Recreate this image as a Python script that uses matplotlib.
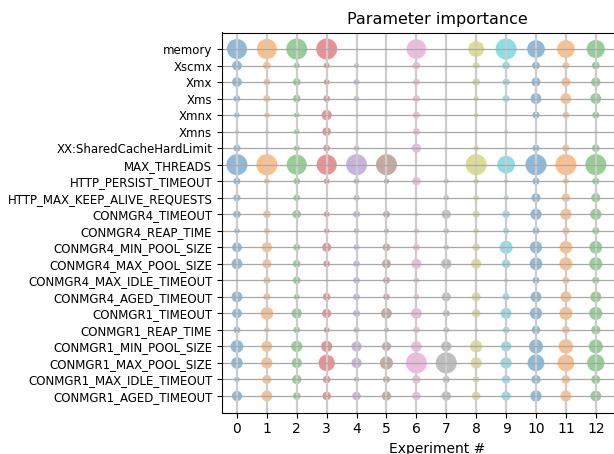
#!/usr/bin/env python3

import matplotlib
matplotlib.use('Agg')
import matplotlib.pyplot as plt
import numpy as np

# parameter names, top to bottom
params = [
    'memory', 'Xscmx', 'Xmx', 'Xms', 'Xmnx', 'Xmns', 'XX:SharedCacheHardLimit',
    'MAX_THREADS', 'HTTP_PERSIST_TIMEOUT', 'HTTP_MAX_KEEP_ALIVE_REQUESTS',
    'CONMGR4_TIMEOUT', 'CONMGR4_REAP_TIME', 'CONMGR4_MIN_POOL_SIZE',
    'CONMGR4_MAX_POOL_SIZE', 'CONMGR4_MAX_IDLE_TIMEOUT', 'CONMGR4_AGED_TIMEOUT',
    'CONMGR1_TIMEOUT', 'CONMGR1_REAP_TIME', 'CONMGR1_MIN_POOL_SIZE',
    'CONMGR1_MAX_POOL_SIZE', 'CONMGR1_MAX_IDLE_TIMEOUT', 'CONMGR1_AGED_TIMEOUT',
]

experiments = list(range(13))

# relative importance (0-100, largest per experiment = 100), one row per parameter
importance = [
    [91, 91, 100, 100, 0, 0, 86, 0, 54, 100, 69, 69, 73],
    [18, 10, 5, 5, 3, 0, 10, 0, 8, 10, 10, 8, 10],
    [18, 7, 10, 5, 5, 0, 7, 0, 10, 8, 15, 15, 16],
    [7, 8, 10, 7, 4, 0, 8, 0, 4, 8, 23, 23, 23],
    [4, 4, 4, 20, 0, 0, 8, 0, 3, 0, 8, 7, 8],
    [1, 1, 4, 13, 0, 0, 8, 0, 0, 1.5, 0, 0, 0],
    [8, 0.3, 5, 7, 4, 0, 16, 0, 4, 0, 8, 8, 10],
    [100, 100, 91, 91, 100, 100, 0, 0, 100, 69, 100, 100, 100],
    [8, 5, 7, 5, 5, 4, 13, 3, 4, 1.5, 8, 5, 8],
    [8, 0, 7, 0, 5, 0, 0, 4, 5, 3, 15, 13, 15],
    [10, 10, 13, 5, 8, 8, 1.5, 15, 8, 10, 25, 25, 25],
    [4, 5, 0, 4, 4, 3, 4, 4, 4, 5, 8, 8, 8],
    [18, 20, 8, 15, 5, 10, 8, 4, 10, 35, 30, 33, 33],
    [23, 15, 10, 7, 7, 15, 20, 20, 20, 13, 33, 35, 35],
    [0, 8, 10, 0, 7, 8, 5, 0, 0, 1.5, 8, 8, 8],
    [23, 8, 5, 10, 7, 7, 5, 15, 15, 8, 23, 23, 23],
    [18, 33, 20, 15, 8, 23, 23, 8, 13, 23, 30, 35, 35],
    [7, 4, 7, 5, 5, 3, 7, 5, 1.5, 7, 13, 10, 15],
    [33, 23, 25, 25, 20, 15, 23, 20, 30, 20, 41, 44, 41],
    [27, 25, 20, 58, 20, 35, 100, 100, 25, 25, 62, 62, 66],
    [4, 15, 16, 10, 4, 8, 13, 8, 7, 13, 15, 13, 15],
    [20, 23, 10, 13, 13, 16, 13, 16, 13, 16, 25, 23, 23],
]


def main():
    imp = np.array(importance, dtype=float)
    ypos = np.arange(len(params))

    fig = plt.figure(figsize=(6.14, 4.54), dpi=100)
    ax = fig.add_axes([222 / 614, 41.5 / 454, 430 / 614, 380 / 454])

    colors = plt.rcParams['axes.prop_cycle'].by_key()['color']
    for j in experiments:
        col = imp[:, j]
        mask = col > 0
        # bubble diameter in pixels, then marker area in pt^2
        diam = np.sqrt(col[mask] / 100) * 19.5 + 1.5
        sizes = (diam * 72 / 100) ** 2
        ax.scatter(np.full(mask.sum(), j), ypos[mask], s=sizes,
                   color=colors[j % len(colors)], alpha=0.5, linewidths=0)

    ax.set_xlim(-0.5, 13.88)
    ax.set_ylim(len(params), -1)
    ax.set_xticks(experiments)
    ax.set_yticks(ypos)
    ax.set_yticklabels(params, fontsize=8.5)
    ax.tick_params(axis='x', labelsize=10)

    ax.grid(axis='x', color='#cccccc', linewidth=1.6)
    ax.grid(axis='y', color='#a8a8a8', linewidth=0.9)

    ax.set_title('Parameter importance', fontsize=11.5)
    ax.set_xlabel('Experiment #', fontsize=10)

    fig.savefig('out.png', dpi=100)
    plt.close(fig)


if __name__ == '__main__':
    main()
